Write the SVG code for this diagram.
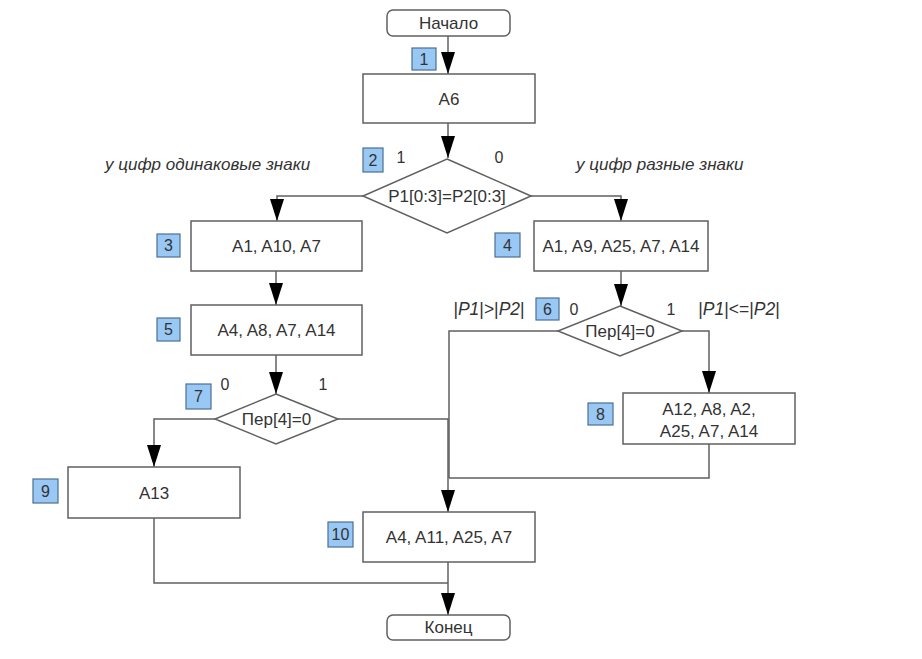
<svg xmlns="http://www.w3.org/2000/svg" width="922" height="659" viewBox="0 0 922 659">
<defs>
<style>
.box{fill:#fff;stroke:#606060;stroke-width:1.5}
.badge{fill:#99c8f5;stroke:#4d6e92;stroke-width:1.2}
.t{font-family:"Liberation Sans",Arial,sans-serif;font-size:17px;fill:#333;text-anchor:middle;dominant-baseline:central}
.bt{font-family:"Liberation Sans",Arial,sans-serif;font-size:16px;fill:#333;text-anchor:middle;dominant-baseline:central}
.it{font-family:"Liberation Sans",Arial,sans-serif;font-size:17px;fill:#333;font-style:italic}
.lb{font-family:"Liberation Sans",Arial,sans-serif;font-size:16px;fill:#333;text-anchor:middle}
.lb2{font-family:"Liberation Sans",Arial,sans-serif;font-size:17.5px;fill:#333;text-anchor:middle}
.c{fill:none;stroke:#606060;stroke-width:1.5}
</style>
<marker id="ah" markerUnits="userSpaceOnUse" markerWidth="22" markerHeight="14" refX="22" refY="7" orient="auto">
<path d="M0,0 L22,7 L0,14 z" fill="#000"/>
</marker>
</defs>
<rect width="922" height="659" fill="#fff"/>

<g id="connectors">
<path class="c" d="M448,36 V74" marker-end="url(#ah)"/>
<path class="c" d="M448,123 V158" marker-end="url(#ah)"/>
<path class="c" d="M363,196 H277 V221" marker-end="url(#ah)"/>
<path class="c" d="M531,196 H621 V221" marker-end="url(#ah)"/>
<path class="c" d="M276,271 V305" marker-end="url(#ah)"/>
<path class="c" d="M621,271 V306" marker-end="url(#ah)"/>
<path class="c" d="M276,355 V394" marker-end="url(#ah)"/>
<path class="c" d="M682,331 H709 V393" marker-end="url(#ah)"/>
<path class="c" d="M558,331 H449 V478"/>
<path class="c" d="M709,444 V478 H449"/>
<path class="c" d="M215,419 H154 V467" marker-end="url(#ah)"/>
<path class="c" d="M338,419 H448 V512" marker-end="url(#ah)"/>
<path class="c" d="M154,518 V583 H448"/>
<path class="c" d="M448,562 V615" marker-end="url(#ah)"/>
</g>

<g id="start">
<rect class="box" x="387" y="10" width="123" height="26" rx="6"/>
<text class="t" x="448.5" y="23">Начало</text>
</g>

<g id="n1">
<rect class="badge" x="412" y="48" width="24" height="22"/>
<text class="bt" x="424" y="59">1</text>
<rect class="box" x="363" y="74" width="172" height="49"/>
<text class="t" x="449" y="99">A6</text>
</g>

<g id="n2">
<rect class="badge" x="363" y="148" width="20" height="24"/>
<text class="bt" x="373" y="160">2</text>
<polygon class="box" points="447,159 531,196 447,233 363,196"/>
<text class="t" x="447" y="196">P1[0:3]=P2[0:3]</text>
<text class="lb" x="401" y="163">1</text>
<text class="lb" x="499" y="163">0</text>
<text class="it" x="105" y="170">у цифр одинаковые знаки</text>
<text class="it" x="576" y="170">у цифр разные знаки</text>
</g>

<g id="n3">
<rect class="badge" x="157" y="234" width="23" height="23"/>
<text class="bt" x="168.5" y="245.5">3</text>
<rect class="box" x="191" y="221" width="171" height="50"/>
<text class="t" x="276.5" y="246">A1, A10, A7</text>
</g>

<g id="n4">
<rect class="badge" x="495" y="233" width="25" height="24"/>
<text class="bt" x="507.5" y="245">4</text>
<rect class="box" x="534" y="221" width="174" height="50"/>
<text class="t" x="621" y="246">A1, A9, A25, A7, A14</text>
</g>

<g id="n5">
<rect class="badge" x="157" y="318" width="23" height="23"/>
<text class="bt" x="168.5" y="329.5">5</text>
<rect class="box" x="191" y="305" width="171" height="50"/>
<text class="t" x="276.5" y="330">A4, A8, A7, A14</text>
</g>

<g id="n6">
<rect class="badge" x="536" y="298" width="23" height="22"/>
<text class="bt" x="547.5" y="309">6</text>
<polygon class="box" points="620,306 682,331 620,356 558,331"/>
<text class="t" x="620" y="331">Пер[4]=0</text>
<text class="lb" x="574" y="315">0</text>
<text class="lb" x="671" y="315">1</text>
<text class="lb2" x="489" y="315"><tspan>|</tspan><tspan font-style="italic">P1</tspan><tspan>|&gt;|</tspan><tspan font-style="italic">P2</tspan><tspan>|</tspan></text>
<text class="lb2" x="739" y="315"><tspan>|</tspan><tspan font-style="italic">P1</tspan><tspan>|&lt;=|</tspan><tspan font-style="italic">P2</tspan><tspan>|</tspan></text>
</g>

<g id="n7">
<rect class="badge" x="186" y="384" width="25" height="25"/>
<text class="bt" x="198.5" y="396.5">7</text>
<polygon class="box" points="276,394 338,419 276,444 215,419"/>
<text class="t" x="276.5" y="419">Пер[4]=0</text>
<text class="lb" x="225" y="390">0</text>
<text class="lb" x="323" y="390">1</text>
</g>

<g id="n8">
<rect class="badge" x="588" y="403" width="25" height="22"/>
<text class="bt" x="600.5" y="414">8</text>
<rect class="box" x="623" y="393" width="172" height="51"/>
<text class="t" x="709" y="409">A12, A8, A2,</text>
<text class="t" x="709" y="431">A25, A7, A14</text>
</g>

<g id="n9">
<rect class="badge" x="33" y="479" width="25" height="24"/>
<text class="bt" x="45.5" y="491">9</text>
<rect class="box" x="68" y="467" width="172" height="51"/>
<text class="t" x="154" y="493">A13</text>
</g>

<g id="n10">
<rect class="badge" x="328" y="522" width="25" height="25"/>
<text class="bt" x="340.5" y="534.5">10</text>
<rect class="box" x="363" y="512" width="172" height="50"/>
<text class="t" x="449" y="537">A4, A11, A25, A7</text>
</g>

<g id="end">
<rect class="box" x="387" y="615" width="123" height="25" rx="6"/>
<text class="t" x="448.5" y="627.5">Конец</text>
</g>
</svg>
